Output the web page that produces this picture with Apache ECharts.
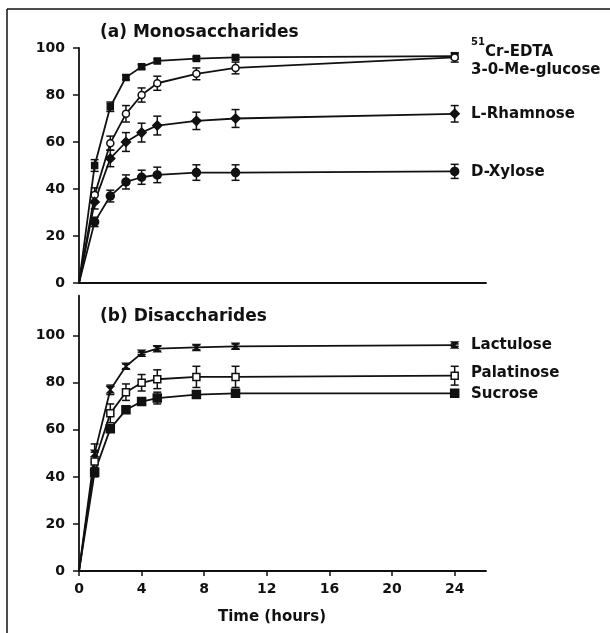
<!DOCTYPE html>
<html><head><meta charset="utf-8">
<script src="https://cdn.jsdelivr.net/npm/echarts@6/dist/echarts.min.js"></script>
<style>html,body{margin:0;padding:0;background:#fff}#c{width:610px;height:633px}</style>
</head><body><div id="c"></div>
<script>
// ---- data ----
const times = [0, 1, 2, 3, 4, 5, 7.5, 10, 24];
// (a) Monosaccharides
const crEdta      = [0, 50, 75, 87.5, 92, 94.5, 95.5, 96, 96.5];
const crEdtaErr   = [0, 2.5, 2, 1, 1, 0.8, 0.8, 0.8, 1];
const meGlucose   = [0, 37.5, 59.5, 72, 80, 85, 89, 91.5, 96];
const meGlucoseErr= [0, 3, 3, 3.5, 3, 3, 2.5, 2.5, 2];
const rhamnose    = [0, 34.5, 53, 60, 64, 67, 69, 70, 72];
const rhamnoseErr = [0, 3, 3.5, 4, 4, 4, 3.7, 3.8, 3.5];
const xylose      = [0, 26, 37, 43, 45, 46, 47, 47, 47.5];
const xyloseErr   = [0, 2, 2.5, 3, 3, 3.3, 3.3, 3.3, 3];
// (b) Disaccharides
const lactulose      = [0, 50, 77, 87, 92.5, 94.5, 95, 95.5, 96];
const lactuloseErr   = [0, 4, 2, 1, 0.5, 1, 1, 1, 0.5];
const palatinose     = [0, 46.5, 67, 76, 80, 81.5, 82.5, 82.5, 83];
const palatinoseErr  = [0, 4, 4, 3.5, 3.5, 4, 4.5, 4.5, 4];
const sucrose        = [0, 42, 60.5, 68.5, 72, 73.5, 75, 75.5, 75.5];
const sucroseErr     = [0, 2, 1, 1, 1, 2.5, 1.5, 1.5, 1];
const yTicks = [0, 20, 40, 60, 80, 100];
const xTicks = [0, 4, 8, 12, 16, 20, 24];

const FONT = 'DejaVu Sans';
const INK = '#111';

function pts(vals) {
  return times.map((t, i) => t === 0 ? { value: [t, vals[i]], symbol: 'none' } : [t, vals[i]]);
}
function errs(vals, e) {
  const out = [];
  times.forEach((t, i) => { if (e[i] > 0) out.push([t, vals[i] - e[i], vals[i] + e[i]]); });
  return out;
}
function lineSeries(name, vals, panel, symbol, size, filled) {
  return {
    name, type: 'line', xAxisIndex: panel, yAxisIndex: panel,
    data: pts(vals), symbol, symbolSize: size, showAllSymbol: true,
    lineStyle: { color: INK, width: 1.8 },
    itemStyle: { color: filled ? INK : '#fff', borderColor: INK, borderWidth: 1.5 },
    z: 3, animation: false
  };
}
function errSeries(vals, e, panel) {
  return {
    type: 'custom', xAxisIndex: panel, yAxisIndex: panel, z: 2, animation: false,
    data: errs(vals, e),
    renderItem(params, api) {
      const x = api.value(0);
      const a = api.coord([x, api.value(1)]);
      const b = api.coord([x, api.value(2)]);
      const w = 4;
      const st = { stroke: INK, lineWidth: 1.5 };
      return { type: 'group', children: [
        { type: 'line', shape: { x1: a[0], y1: a[1], x2: b[0], y2: b[1] }, style: st },
        { type: 'line', shape: { x1: a[0] - w, y1: a[1], x2: a[0] + w, y2: a[1] }, style: st },
        { type: 'line', shape: { x1: b[0] - w, y1: b[1], x2: b[0] + w, y2: b[1] }, style: st }
      ]};
    }
  };
}
const bowtie = 'path://M0,0 L10,0 L0,10 L10,10 Z';

function yAxis(idx, max) {
  return {
    type: 'value', gridIndex: idx, min: 0, max,
    axisLine: { show: true, lineStyle: { color: INK, width: 1.8 } },
    axisTick: { show: true, inside: false, length: 6, customValues: yTicks, lineStyle: { color: INK, width: 1.5 } },
    axisLabel: { customValues: yTicks, margin: 14, fontFamily: FONT, fontWeight: 'bold', fontSize: 14, color: INK },
    splitLine: { show: false }
  };
}
function xAxis(idx, labels) {
  return {
    type: 'value', gridIndex: idx, min: 0, max: 26,
    axisLine: { show: true, onZero: false, lineStyle: { color: INK, width: 1.8 } },
    axisTick: { show: labels, length: 5, customValues: xTicks, lineStyle: { color: INK, width: 1.5 } },
    axisLabel: { show: labels, customValues: xTicks, margin: 11, fontFamily: FONT, fontWeight: 'bold', fontSize: 14, color: INK },
    splitLine: { show: false }
  };
}
function txt(x, y, text, size) {
  return { type: 'text', x, y, silent: true,
    style: { text, fill: INK, font: `bold ${size}px "${FONT}"`, verticalAlign: 'middle', align: 'left' } };
}

const chart = echarts.init(document.getElementById('c'), null, { renderer: 'canvas' });
chart.setOption({
  backgroundColor: '#fff',
  animation: false,
  grid: [
    { left: 79, top: 48, width: 407, height: 235 },
    { left: 79, top: 295.7, width: 407, height: 275.3 }
  ],
  xAxis: [xAxis(0, false), xAxis(1, true)],
  yAxis: [yAxis(0, 100), yAxis(1, 117)],
  series: [
    errSeries(crEdta, crEdtaErr, 0),
    errSeries(meGlucose, meGlucoseErr, 0),
    errSeries(rhamnose, rhamnoseErr, 0),
    errSeries(xylose, xyloseErr, 0),
    lineSeries('51Cr-EDTA', crEdta, 0, 'rect', 6, true),
    lineSeries('3-0-Me-glucose', meGlucose, 0, 'circle', 7, false),
    lineSeries('L-Rhamnose', rhamnose, 0, 'diamond', 9, true),
    lineSeries('D-Xylose', xylose, 0, 'circle', 8, true),
    errSeries(lactulose, lactuloseErr, 1),
    errSeries(palatinose, palatinoseErr, 1),
    errSeries(sucrose, sucroseErr, 1),
    lineSeries('Lactulose', lactulose, 1, bowtie, 6, true),
    lineSeries('Palatinose', palatinose, 1, 'rect', 7, false),
    lineSeries('Sucrose', sucrose, 1, 'rect', 8, true)
  ],
  graphic: [
    { type: 'line', silent: true, shape: { x1: 7, y1: 9, x2: 610, y2: 9 }, style: { stroke: INK, lineWidth: 1.5 } },
    { type: 'line', silent: true, shape: { x1: 7, y1: 9, x2: 7, y2: 633 }, style: { stroke: INK, lineWidth: 1.5 } },
    txt(100, 33, '(a) Monosaccharides', 17),
    txt(100, 317, '(b) Disaccharides', 17),
    txt(471, 42, '51', 10),
    txt(485, 52, 'Cr-EDTA', 15),
    txt(471, 70, '3-0-Me-glucose', 15),
    txt(471, 114, 'L-Rhamnose', 15),
    txt(471, 172, 'D-Xylose', 15),
    txt(471, 345, 'Lactulose', 15),
    txt(471, 373, 'Palatinose', 15),
    txt(471, 394, 'Sucrose', 15),
    { type: 'text', x: 272, y: 617, silent: true,
      style: { text: 'Time (hours)', fill: INK, font: `bold 15px "${FONT}"`, verticalAlign: 'middle', align: 'center' } }
  ]
});
</script>
</body></html>
